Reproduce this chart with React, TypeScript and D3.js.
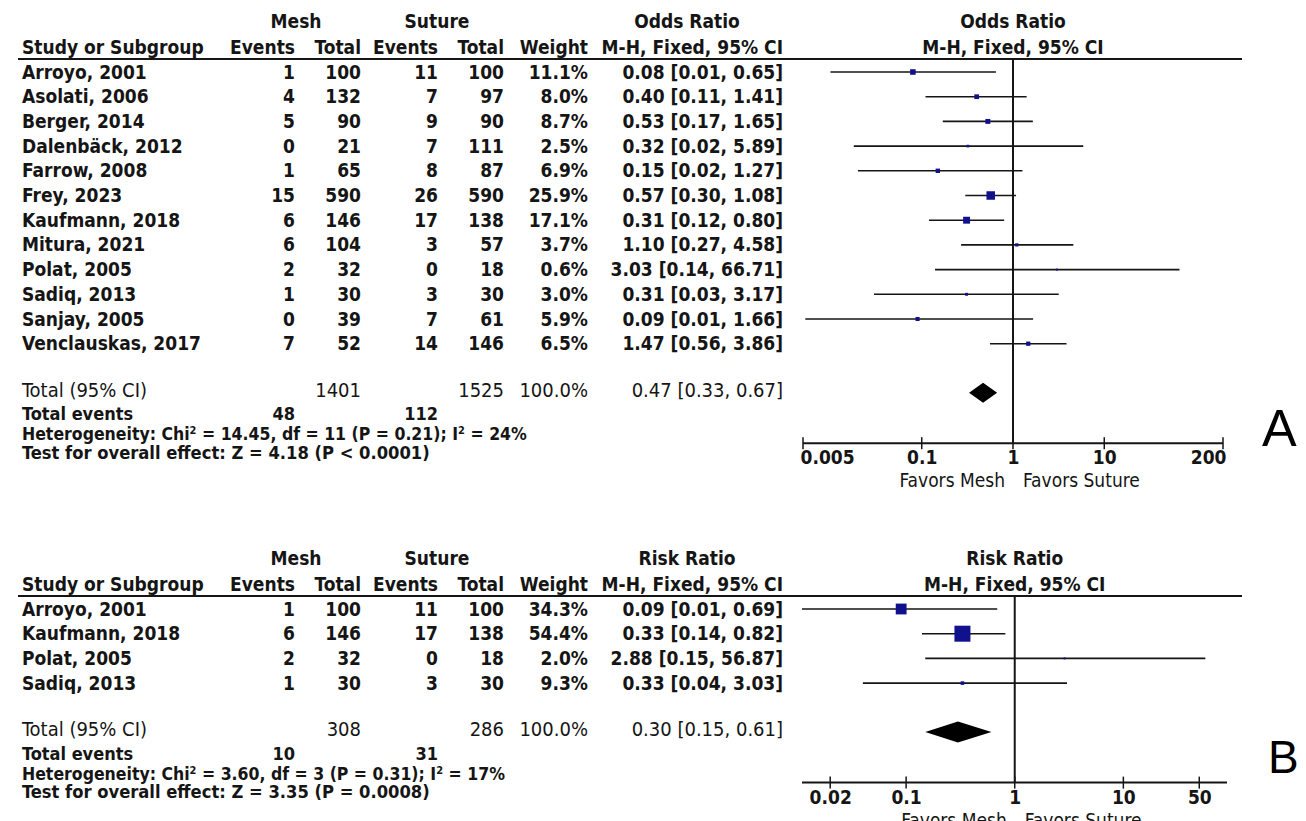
import { useEffect, useRef } from 'react';
import * as d3 from 'd3';

// ---- panel A: odds ratio ----
const studiesA = ['Arroyo, 2001', 'Asolati, 2006', 'Berger, 2014', 'Dalenbäck, 2012', 'Farrow, 2008', 'Frey, 2023',
    'Kaufmann, 2018', 'Mitura, 2021', 'Polat, 2005', 'Sadiq, 2013', 'Sanjay, 2005', 'Venclauskas, 2017'];
const meshEventsA = [1, 4, 5, 0, 1, 15, 6, 6, 2, 1, 0, 7];
const meshTotalA = [100, 132, 90, 21, 65, 590, 146, 104, 32, 30, 39, 52];
const sutureEventsA = [11, 7, 9, 7, 8, 26, 17, 3, 0, 3, 7, 14];
const sutureTotalA = [100, 97, 90, 111, 87, 590, 138, 57, 18, 30, 61, 146];
const weightA = [11.1, 8.0, 8.7, 2.5, 6.9, 25.9, 17.1, 3.7, 0.6, 3.0, 5.9, 6.5];
const estA = [0.08, 0.40, 0.53, 0.32, 0.15, 0.57, 0.31, 1.10, 3.03, 0.31, 0.09, 1.47];
const lowA = [0.01, 0.11, 0.17, 0.018, 0.02, 0.30, 0.12, 0.27, 0.14, 0.03, 0.0053, 0.56];
const highA = [0.65, 1.41, 1.65, 5.89, 1.27, 1.08, 0.80, 4.58, 66.71, 3.17, 1.66, 3.86];
const totalsA = [1401, 1525];
const pooledA = [0.47, 0.33, 0.67];
const totalEventsA = [48, 112];
const hetA = ['14.45', '11', '0.21', '24'];
const testA = ['4.18', 'P < 0.0001'];
const ticksA = [0.005, 0.1, 1, 10, 200];

// ---- panel B: risk ratio ----
const studiesB = ['Arroyo, 2001', 'Kaufmann, 2018', 'Polat, 2005', 'Sadiq, 2013'];
const meshEventsB = [1, 6, 2, 1];
const meshTotalB = [100, 146, 32, 30];
const sutureEventsB = [11, 17, 0, 3];
const sutureTotalB = [100, 138, 18, 30];
const weightB = [34.3, 54.4, 2.0, 9.3];
const estB = [0.09, 0.33, 2.88, 0.33];
const lowB = [0.01, 0.14, 0.15, 0.04];
const highB = [0.69, 0.82, 56.87, 3.03];
const totalsB = [308, 286];
const pooledB = [0.30, 0.15, 0.61];
const totalEventsB = [10, 31];
const hetB = ['3.60', '3', '0.31', '17'];
const testB = ['3.35', 'P = 0.0008'];
const ticksB = [0.02, 0.1, 1, 10, 50];

const FONT = "'DejaVu Sans Condensed', 'DejaVu Sans', sans-serif";
const INK = '#151515';
const BOX = '#11118e';

// right edges of the table columns
const COL = { meshEv: 295, meshTot: 361, sutEv: 438, sutTot: 504, weight: 588, ci: 783 };

const fmtCI = (e, l, h) => `${e.toFixed(2)} [${l.toFixed(2)}, ${h.toFixed(2)}]`;

const drawPanel = (svg, p) => {
    const g = svg.append('g').attr('transform', `translate(0, ${p.top})`);
    const txt = (x, y, s, anchor = 'start', weight = 'bold', size = 19) =>
        g.append('text')
            .attr('x', x).attr('y', y)
            .attr('text-anchor', anchor)
            .attr('font-weight', weight)
            .attr('font-size', size)
            .text(s);

    const x = d3.scaleLog().domain(p.domain).range(p.range).clamp(true);
    const x1 = x(1);

    // headers
    txt(296, 28, 'Mesh', 'middle');
    txt(437, 28, 'Suture', 'middle');
    txt(687, 28, p.title, 'middle');
    txt(x1, 28, p.title, 'middle');
    txt(22, 54, 'Study or Subgroup');
    txt(COL.meshEv, 54, 'Events', 'end');
    txt(COL.meshTot, 54, 'Total', 'end');
    txt(COL.sutEv, 54, 'Events', 'end');
    txt(COL.sutTot, 54, 'Total', 'end');
    txt(COL.weight, 54, 'Weight', 'end');
    txt(COL.ci, 54, 'M-H, Fixed, 95% CI', 'end');
    txt(x1, 54, 'M-H, Fixed, 95% CI', 'middle');

    g.append('line')
        .attr('x1', 18).attr('x2', 1242)
        .attr('y1', 59).attr('y2', 59)
        .attr('stroke', INK).attr('stroke-width', 2);

    const rowY = i => 72 + i * 24.7;
    const n = p.studies.length;
    const totalY = rowY(n - 1) + 46.5;
    const eventsY = totalY + 24;
    const hetY = eventsY + 20;
    const testY = hetY + 18.5;
    const axisY = totalY + 53;

    // table rows
    p.studies.forEach((s, i) => {
        const y = rowY(i) + 6.5;
        txt(22, y, s);
        txt(COL.meshEv, y, p.meshEvents[i], 'end');
        txt(COL.meshTot, y, p.meshTotal[i], 'end');
        txt(COL.sutEv, y, p.sutureEvents[i], 'end');
        txt(COL.sutTot, y, p.sutureTotal[i], 'end');
        txt(COL.weight, y, `${p.weight[i].toFixed(1)}%`, 'end');
        txt(COL.ci, y, fmtCI(p.est[i], p.low[i], p.high[i]), 'end');
    });

    txt(22, totalY + 6.5, 'Total (95% CI)', 'start', 'normal', 20);
    txt(COL.meshTot, totalY + 6.5, p.totals[0], 'end', 'normal', 20);
    txt(COL.sutTot, totalY + 6.5, p.totals[1], 'end', 'normal', 20);
    txt(COL.weight, totalY + 6.5, '100.0%', 'end', 'normal', 20);
    txt(COL.ci, totalY + 6.5, fmtCI(p.pooled[0], p.pooled[1], p.pooled[2]), 'end', 'normal', 20);

    txt(22, eventsY + 6, 'Total events', 'start', 'bold', 18);
    txt(COL.meshEv, eventsY + 6, p.totalEvents[0], 'end', 'bold', 18);
    txt(COL.sutEv, eventsY + 6, p.totalEvents[1], 'end', 'bold', 18);

    const het = g.append('text').attr('x', 22).attr('y', hetY + 6)
        .attr('font-weight', 'bold').attr('font-size', 17.5);
    het.append('tspan').text('Heterogeneity: Chi');
    het.append('tspan').attr('dy', -6).attr('font-size', 11).text('2');
    het.append('tspan').attr('dy', 6).text(` = ${p.het[0]}, df = ${p.het[1]} (P = ${p.het[2]}); I`);
    het.append('tspan').attr('dy', -6).attr('font-size', 11).text('2');
    het.append('tspan').attr('dy', 6).text(` = ${p.het[3]}%`);

    txt(22, testY + 6, `Test for overall effect: Z = ${p.test[0]} (${p.test[1]})`, 'start', 'bold', 18.2);

    // forest plot
    g.append('line')
        .attr('x1', x1).attr('x2', x1)
        .attr('y1', 59).attr('y2', axisY)
        .attr('stroke', INK).attr('stroke-width', 2);

    const maxW = d3.max(p.weight);
    p.studies.forEach((s, i) => {
        const y = rowY(i);
        g.append('line')
            .attr('x1', x(p.low[i])).attr('x2', x(p.high[i]))
            .attr('y1', y).attr('y2', y)
            .attr('stroke', INK).attr('stroke-width', 1.6);
        const size = Math.max(2, p.boxMax * Math.pow(p.weight[i] / maxW, p.boxExp));
        g.append('rect')
            .attr('x', x(p.est[i]) - size / 2).attr('y', y - size / 2)
            .attr('width', size).attr('height', size)
            .attr('fill', BOX);
    });

    const dy = totalY + 2.5;
    const dh = p.diamondHalf;
    g.append('path')
        .attr('d', `M${x(p.pooled[1])},${dy}L${x(p.pooled[0])},${dy - dh}L${x(p.pooled[2])},${dy}L${x(p.pooled[0])},${dy + dh}Z`)
        .attr('fill', '#000');

    // axis
    const axis = g.append('g')
        .attr('transform', `translate(0, ${axisY})`)
        .call(d3.axisBottom(x).tickValues(p.ticks).tickSize(0).tickFormat(d => String(d)));
    axis.select('.domain').remove();
    axis.selectAll('text')
        .attr('y', 21).attr('dy', 0)
        .attr('font-family', FONT).attr('font-size', 19).attr('font-weight', 'bold')
        .attr('fill', INK);
    if (p.insetEnds) {
        const labels = axis.selectAll('text').nodes();
        d3.select(labels[0]).attr('text-anchor', 'start').attr('x', -3);
        d3.select(labels[labels.length - 1]).attr('text-anchor', 'end').attr('x', 3);
    }
    g.append('line')
        .attr('x1', p.range[0]).attr('x2', p.range[1])
        .attr('y1', axisY).attr('y2', axisY)
        .attr('stroke', INK).attr('stroke-width', 2);
    p.ticks.forEach(t => {
        g.append('line')
            .attr('x1', x(t)).attr('x2', x(t))
            .attr('y1', axisY - 6).attr('y2', axisY + 6)
            .attr('stroke', INK).attr('stroke-width', 1.5);
    });

    txt(x1 - 8, axisY + 44, 'Favors Mesh', 'end', 'normal', 19);
    txt(x1 + 10, axisY + 44, 'Favors Suture', 'start', 'normal', 19);

    g.append('text')
        .attr('x', p.letterX).attr('y', axisY + p.letterDy)
        .attr('font-family', "'Liberation Sans', Arial, sans-serif")
        .attr('font-size', p.letterSize)
        .attr('fill', '#000')
        .text(p.letter);
};

const ForestPlots = () => {
    const ref = useRef(null);

    useEffect(() => {
        const svg = d3.select(ref.current);
        svg.selectAll('*').remove();

        drawPanel(svg, {
            top: 0, title: 'Odds Ratio', letter: 'A',
            letterX: 1262, letterDy: 3, letterSize: 52,
            studies: studiesA, meshEvents: meshEventsA, meshTotal: meshTotalA,
            sutureEvents: sutureEventsA, sutureTotal: sutureTotalA, weight: weightA,
            est: estA, low: lowA, high: highA,
            totals: totalsA, pooled: pooledA, totalEvents: totalEventsA, het: hetA, test: testA,
            domain: [0.005, 200], range: [803, 1223], ticks: ticksA, insetEnds: true,
            boxMax: 8.5, boxExp: 0.5, diamondHalf: 10,
        });

        drawPanel(svg, {
            top: 537, title: 'Risk Ratio', letter: 'B',
            letterX: 1268, letterDy: -10, letterSize: 46,
            studies: studiesB, meshEvents: meshEventsB, meshTotal: meshTotalB,
            sutureEvents: sutureEventsB, sutureTotal: sutureTotalB, weight: weightB,
            est: estB, low: lowB, high: highB,
            totals: totalsB, pooled: pooledB, totalEvents: totalEventsB, het: hetB, test: testB,
            domain: [0.011, 90], range: [802, 1227], ticks: ticksB, insetEnds: false,
            boxMax: 16, boxExp: 0.85, diamondHalf: 10.5,
        });
    }, []);

    return (
        <svg ref={ref} width={1306} height={821}
            style={{ position: 'absolute', left: 0, top: 0, background: '#fff' }}
            fontFamily={FONT} fill={INK}></svg>
    );
};

export default function App() {
    return <ForestPlots />;
}
